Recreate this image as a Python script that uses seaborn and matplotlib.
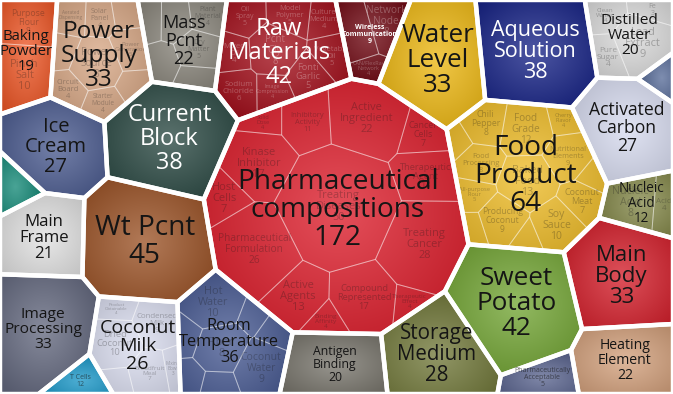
import numpy as np
import matplotlib
matplotlib.use("Agg")
import matplotlib.pyplot as plt
import seaborn as sns
from matplotlib.patches import Polygon
from matplotlib.colors import to_rgb

W, H = 673, 394

# top level groups
names = ["Baking\nPowder", "Power\nSupply", "Mass\nPcnt", "Raw\nMaterials", "Wireless\nCommunication",
         "Water\nLevel", "Aqueous\nSolution", "Distilled\nWater", "", "Ice\nCream", "Current\nBlock",
         "Pharmaceutical\ncompositions", "Food\nProduct", "Activated\nCarbon", "", "Main\nFrame",
         "Wt Pcnt", "Nucleic\nAcid", "Main\nBody", "Image\nProcessing", "Coconut\nMilk", "T Cells",
         "Room\nTemperature", "Antigen\nBinding", "Storage\nMedium", "Sweet\nPotato",
         "Pharmaceutically\nAcceptable", "Heating\nElement"]
values = [19, 33, 22, 42, 14, 33, 38, 20, 3, 27, 38, 172, 64, 27, 4, 21, 45, 12, 33, 33, 26, 5,
          36, 20, 28, 42, 8, 22]
shown = {"Wireless\nCommunication": 9, "T Cells": 12, "Pharmaceutically\nAcceptable": 5}
colors = ["#EE5828", "#D8A886", "#8C887E", "#A3101C", "#700A14", "#EDB814", "#1A2688", "#DCDCDC",
          "#5A6E9A", "#4C5C90", "#2C4A44", "#DD1E2C", "#EFBD2A", "#D8DCF0", "#168A78", "#E2E2E2",
          "#9C5428", "#868A4C", "#D4202C", "#656A80", "#DDE0F2", "#1C98C8", "#4A5C94", "#7A776E",
          "#737A3C", "#74A636", "#5C6690", "#D4A27E"]
white_text = {"Raw\nMaterials", "Wireless\nCommunication", "Aqueous\nSolution", "Current\nBlock"}

# layout hints: where each group starts before relaxation
seed_x = [42, 105, 190, 285, 378, 440, 538, 630, 665, 58, 175, 335, 525, 630, 10, 45, 160, 640,
          620, 48, 145, 88, 235, 330, 430, 515, 535, 625]
seed_y = [50, 60, 40, 45, 35, 55, 45, 35, 72, 130, 125, 205, 165, 115, 182, 237, 240, 192, 262,
          330, 345, 382, 335, 360, 345, 290, 380, 357]

# second level (first child sits in the middle, the rest go round clockwise from the top)
children = {
    "Pharmaceutical\ncompositions": (
        ["Treating\nDiseases", "Inhibitory\nActivity", "Active\nIngredient", "Cancer\nCells",
         "Therapeutic\nAgent", "Treating\nCancer", "Therapeutic\nEffect", "Compound\nRepresented",
         "Binding\nAffinity", "Active\nAgents", "Pharmaceutical\nFormulation", "Host\nCells",
         "Kinase\nInhibitor", "Solid\nDose"],
        [50, 11, 22, 7, 13, 28, 4, 17, 4, 13, 26, 7, 17, 4]),
    "Food\nProduct": (
        ["Baked\nFood", "Food\nGrade", "Cherry\nFlavor", "Nutritional\nElements", "", "Coconut\nMeat",
         "Soy\nSauce", "", "Producing\nCoconut", "", "All-purpose\nFlour", "Food\nProcessing", "",
         "Chili\nPepper"],
        [13, 12, 4, 9, 3, 7, 10, 3, 9, 3, 5, 8, 3, 8]),
    "Raw\nMaterials": (
        ["Pcnt\nGly", "Model\nPolymer", "Culture\nMedium", "Vegetable\nOil", "Fonti\nGarlic",
         "Image\nCompression", "Sodium\nChloride", "Mixed\nOil", "Oil\nSpray"],
        [8, 5, 4, 5, 5, 4, 6, 4, 5]),
    "Power\nSupply": (
        ["Power\nSource", "Solar\nPanel", "", "Power\nGeneration", "", "Starter\nModule",
         "Circuit\nBoard", "", "Aerated\nDispensing"],
        [8, 4, 3, 5, 3, 4, 4, 3, 4]),
    "Mass\nPcnt": (["Dry\nMatter", "", "Plant\nMaterial", "", "", ""], [5, 4, 4, 3, 4, 3]),
    "Wireless\nCommunication": (["", "Network\nNode", "CAN/FlexRay\nNetwork"], [9, 8, 4]),
    "Room\nTemperature": (
        ["Fiber", "Hot\nWater", "", "", "Coconut\nWater", "", "", ""], [8, 10, 3, 3, 9, 3, 3, 3]),
    "Coconut\nMilk": (
        ["Dried\nCoconut", "Product\nObtainable", "Condensed\nMilk", "Mixing\nBowl",
         "Breadfruit\nMeal", ""], [10, 4, 9, 3, 7, 3]),
    "Distilled\nWater": (["Lead\nExtract", "Clean\nWater", "Fe", "Pure\nSugar"], [9, 4, 3, 4]),
    "Baking\nPowder": (["Pinch\nSalt", "Purpose\nFlour"], [10, 8]),
    "Nucleic\nAcid": (["Nucleic\nAcid", "Acid"], [8, 4]),
}


def clip(poly, a, b, c):
    out = []
    n = len(poly)
    for k in range(n):
        p, q = poly[k], poly[(k + 1) % n]
        fp = a * p[0] + b * p[1] - c
        fq = a * q[0] + b * q[1] - c
        if fp <= 0:
            out.append(p)
        if fp * fq < 0:
            t = fp / (fp - fq)
            out.append((p[0] + t * (q[0] - p[0]), p[1] + t * (q[1] - p[1])))
    return out


def power_cells(pts, w, bound):
    cells = []
    for i in range(len(pts)):
        poly = list(bound)
        for j in range(len(pts)):
            if i == j:
                continue
            a = 2 * (pts[j][0] - pts[i][0])
            b = 2 * (pts[j][1] - pts[i][1])
            c = pts[j] @ pts[j] - pts[i] @ pts[i] - w[j] + w[i]
            poly = clip(poly, a, b, c)
            if len(poly) < 3:
                poly = []
                break
        cells.append(poly)
    return cells


def area_centroid(poly):
    if len(poly) < 3:
        return 0.0, None
    x = np.array([p[0] for p in poly])
    y = np.array([p[1] for p in poly])
    cr = x * np.roll(y, -1) - np.roll(x, -1) * y
    A = cr.sum() / 2
    if abs(A) < 1e-9:
        return 0.0, None
    cx = ((x + np.roll(x, -1)) * cr).sum() / (6 * A)
    cy = ((y + np.roll(y, -1)) * cr).sum() / (6 * A)
    return abs(A), np.array([cx, cy])


def voronoi_treemap(sites, vals, bound, iters=150, move=1.0, free_iters=None):
    pts = np.array(sites, float)
    n = len(pts)
    total, _ = area_centroid(bound)
    target = np.array(vals, float) / np.sum(vals) * total
    w = np.full(n, (np.sqrt(total / n) / 2) ** 2)
    if free_iters is None:
        free_iters = iters
    for it in range(iters):
        cells = power_cells(pts, w, bound)
        for i in range(n):
            A, C = area_centroid(cells[i])
            if C is not None and it < free_iters:
                pts[i] += move * (C - pts[i])
            ratio = target[i] / max(A, 1e-3)
            w[i] = max(w[i] * (1 + (min(ratio, 3) - 1) * 0.4), 1e-3)
        for i in range(n):
            for j in range(n):
                if i == j:
                    continue
                d2 = np.sum((pts[i] - pts[j]) ** 2)
                over = w[i] - w[j] - d2
                if over > 0:
                    w[j] += over + 1e-3
    return power_cells(pts, w, bound)


def fit_size(poly, text, cap=28, wf=0.83, hf=0.6):
    xs = [p[0] for p in poly]
    ys = [p[1] for p in poly]
    bw, bh = max(xs) - min(xs), max(ys) - min(ys)
    lines = text.split("\n")
    nch = max(len(s) for s in lines)
    px = min(wf * bw / (0.53 * nch), hf * bh / len(lines), cap)
    return px * 72 / 100


def draw_cell(ax, poly, color):
    patch = Polygon(poly, closed=True, fc=color, ec="none", zorder=1)
    ax.add_patch(patch)
    xs = np.array([p[0] for p in poly])
    ys = np.array([p[1] for p in poly])
    _, c = area_centroid(poly)
    x0, x1, y0, y1 = xs.min(), xs.max(), ys.min(), ys.max()
    gx, gy = np.meshgrid(np.linspace(x0, x1, 80), np.linspace(y0, y1, 80))
    r = np.hypot((gx - c[0]) / (x1 - x0), (gy - c[1]) / (y1 - y0)) * 1.6
    t = np.clip(r, 0, 1)[..., None]
    base = np.array(to_rgb(color))
    light = base + (1 - base) * 0.22
    dark = base * 0.86
    img = light * (1 - t) + dark * t
    im = ax.imshow(img, extent=(x0, x1, y1, y0), origin="upper", interpolation="bilinear",
                   zorder=1.5, aspect="auto")
    im.set_clip_path(patch)
    return c


sns.set_theme(style="white")
plt.rcParams["font.family"] = ["Open Sans", "DejaVu Sans"]

fig, ax = plt.subplots(figsize=(6.73, 3.94), dpi=100)
fig.subplots_adjust(0, 0, 1, 1)

bound = [(0, 0), (W, 0), (W, H), (0, H)]
cells = voronoi_treemap(list(zip(seed_x, seed_y)), values, bound, iters=260, move=0.1,
                        free_iters=50)

for name, val, col, poly in zip(names, values, colors, cells):
    if not poly:
        continue
    c = draw_cell(ax, poly, col)
    tc = "white" if name in white_text else "#151515"
    if name in children:
        cnames, cvals = children[name]
        A, _ = area_centroid(poly)
        rad = 0.6 * np.sqrt(A / np.pi)
        m = len(cnames) - 1
        ang = -np.pi / 2 + 2 * np.pi * np.arange(m) / m
        csites = [tuple(c)] + [(c[0] + rad * np.cos(a), c[1] + rad * np.sin(a)) for a in ang]
        sub = voronoi_treemap(csites, cvals, poly, iters=80)
        for cn, cv, sp in zip(cnames, cvals, sub):
            if not sp:
                continue
            ax.add_patch(Polygon(sp, closed=True, fc="none", ec=(1, 1, 1, 0.35), lw=0.7, zorder=2))
            if cn:
                txt = f"{cn}\n{cv}"
                fs = fit_size(sp, txt, cap=11, wf=0.8, hf=0.55)
                if fs >= 3:
                    _, sc = area_centroid(sp)
                    ax.text(sc[0], sc[1], txt, ha="center", va="center", fontsize=fs,
                            color=tc, alpha=0.28, linespacing=1.0, zorder=3)
    ax.add_patch(Polygon(poly, closed=True, fc="none", ec="white", lw=3.2,
                         joinstyle="round", zorder=4))
    if name:
        txt = f"{name}\n{shown.get(name, val)}"
        small = name in shown
        fs = fit_size(poly, txt, cap=28)
        if small:
            fs = min(fs, 5)
        ax.text(c[0], c[1], txt, ha="center", va="center", fontsize=fs, color=tc,
                alpha=0.6 if small and name != "Wireless\nCommunication" else 1,
                fontweight="bold" if name == "Wireless\nCommunication" else "normal",
                linespacing=1.0, zorder=5)

ax.set_xlim(0, W)
ax.set_ylim(H, 0)
ax.axis("off")
fig.savefig("out.png", dpi=100, facecolor="white")
